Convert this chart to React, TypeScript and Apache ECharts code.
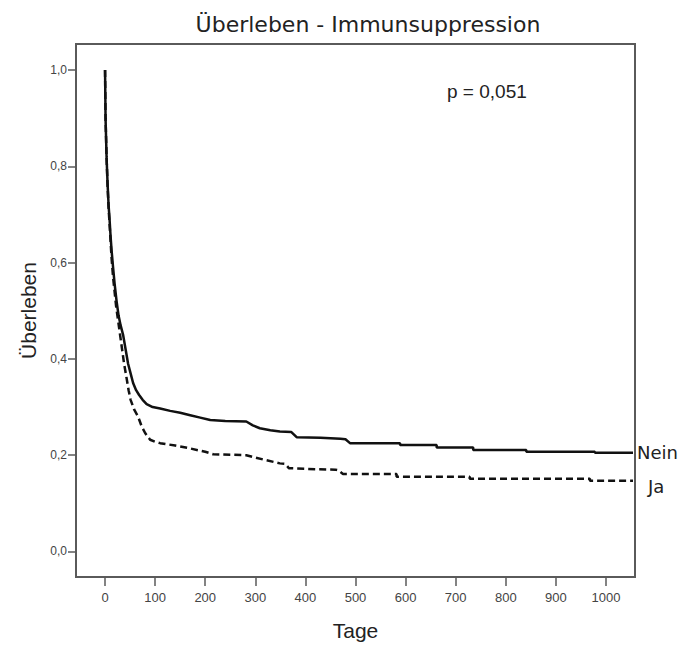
import React, { useEffect, useRef } from "react";
import * as echarts from "echarts";

const titleText = "Überleben - Immunsuppression";
const xName = "Tage";
const yName = "Überleben";
const pText = "p = 0,051";
const xTicks = [0, 100, 200, 300, 400, 500, 600, 700, 800, 900, 1000];
const yTicks = [0, 0.2, 0.4, 0.6, 0.8, 1.0];

const neinDays = [0, 0.5, 1, 3, 5, 7, 9, 11, 13, 16, 19, 23, 27, 31, 36, 41, 46, 51, 56, 62, 68, 75, 83, 95, 110, 130, 150, 170, 190, 210, 240, 282, 295, 309, 330, 349, 372, 383, 430, 470, 480, 489, 589, 589, 662, 662, 735, 735, 841, 841, 978, 978, 1054];
const neinSurv = [1.0, 0.95, 0.9, 0.82, 0.765, 0.72, 0.69, 0.655, 0.626, 0.59, 0.557, 0.52, 0.49, 0.47, 0.45, 0.42, 0.39, 0.37, 0.35, 0.335, 0.325, 0.315, 0.306, 0.3, 0.297, 0.292, 0.288, 0.283, 0.278, 0.273, 0.271, 0.27, 0.262, 0.256, 0.252, 0.249, 0.248, 0.237, 0.236, 0.234, 0.233, 0.225, 0.225, 0.221, 0.221, 0.216, 0.216, 0.211, 0.211, 0.207, 0.207, 0.205, 0.205];

const jaDays = [0, 0.5, 1, 3, 5, 7, 9, 11, 13, 16, 19, 22, 26, 30, 34, 38, 43, 47, 51, 58, 66, 73, 80, 90, 100, 110, 140, 170, 200, 216, 282, 300, 320, 349, 360, 367, 420, 460, 465, 475, 582, 582, 728, 728, 968, 968, 1054];
const jaSurv = [1.0, 0.95, 0.9, 0.82, 0.76, 0.715, 0.68, 0.645, 0.61, 0.57, 0.54, 0.51, 0.48, 0.45, 0.42, 0.39, 0.36, 0.335, 0.315, 0.295, 0.28, 0.26, 0.246, 0.232, 0.228, 0.225, 0.22, 0.214, 0.207, 0.202, 0.2, 0.195, 0.19, 0.183, 0.182, 0.173, 0.171, 0.17, 0.169, 0.161, 0.161, 0.155, 0.155, 0.151, 0.151, 0.147, 0.147];

const neinLabel = "Nein";
const jaLabel = "Ja";

export default function App() {
  const ref = useRef<HTMLDivElement>(null);
  useEffect(() => {
    if (!ref.current) return;
    const chart = echarts.init(ref.current, null, { renderer: "svg" });
    const neinData = neinDays.map((d, i) => [d, neinSurv[i]]);
    const jaData = jaDays.map((d, i) => [d, jaSurv[i]]);
    chart.setOption({
      animation: false,
      backgroundColor: "#ffffff",
      title: {
        text: titleText,
        left: 363,
        top: 8,
        textAlign: "center",
        textStyle: { fontFamily: "DejaVu Sans", fontSize: 22, fontWeight: "normal", color: "#222" },
      },
      grid: {
        left: 76,
        right: 50,
        top: 44,
        bottom: 71,
        show: true,
        borderColor: "#5a5a5a",
        borderWidth: 2,
        backgroundColor: "#fff",
      },
      xAxis: {
        type: "value",
        min: -58,
        max: 1058,
        name: xName,
        nameLocation: "middle",
        nameGap: 43,
        nameTextStyle: { fontFamily: "Liberation Sans", fontSize: 21, color: "#222" },
        axisLine: { show: false, onZero: false },
        splitLine: { show: false },
        axisTick: {
          show: true,
          length: 9,
          customValues: xTicks,
          lineStyle: { color: "#5a5a5a", width: 1.5 },
        },
        axisLabel: {
          customValues: xTicks,
          margin: 14,
          fontFamily: "Liberation Sans",
          fontSize: 13,
          color: "#444",
          formatter: (v: number) => String(Math.round(v)),
        },
      },
      yAxis: {
        type: "value",
        min: -0.053,
        max: 1.054,
        name: yName,
        nameLocation: "middle",
        nameGap: 36,
        nameTextStyle: { fontFamily: "Liberation Sans", fontSize: 21, color: "#222" },
        axisLine: { show: false, onZero: false },
        splitLine: { show: false },
        axisTick: {
          show: true,
          length: 8,
          customValues: yTicks,
          lineStyle: { color: "#5a5a5a", width: 1.5 },
        },
        axisLabel: {
          customValues: yTicks,
          margin: 9,
          fontFamily: "Liberation Sans",
          fontSize: 12,
          color: "#444",
          formatter: (v: number) => v.toFixed(1).replace(".", ","),
        },
      },
      graphic: [
        {
          type: "text",
          left: 447,
          top: 82,
          style: { text: pText, fontFamily: "Liberation Sans", fontSize: 19, fill: "#222" },
        },
      ],
      series: [
        {
          type: "line",
          name: neinLabel,
          data: neinData,
          showSymbol: false,
          lineStyle: { color: "#111", width: 2.5 },
          endLabel: {
            show: true,
            formatter: neinLabel,
            distance: 4,
            fontFamily: "DejaVu Sans",
            fontSize: 18,
            color: "#222",
          },
        },
        {
          type: "line",
          name: jaLabel,
          data: jaData,
          showSymbol: false,
          lineStyle: { color: "#111", width: 2.5, type: [7, 4] },
          endLabel: {
            show: true,
            formatter: jaLabel,
            distance: 4,
            offset: [11, 6],
            fontFamily: "DejaVu Sans",
            fontSize: 18,
            color: "#222",
          },
        },
      ],
    });
    return () => chart.dispose();
  }, []);
  return (
    <div
      ref={ref}
      style={{ position: "fixed", left: 0, top: 0, width: 685, height: 648, background: "#fff" }}
    />
  );
}
